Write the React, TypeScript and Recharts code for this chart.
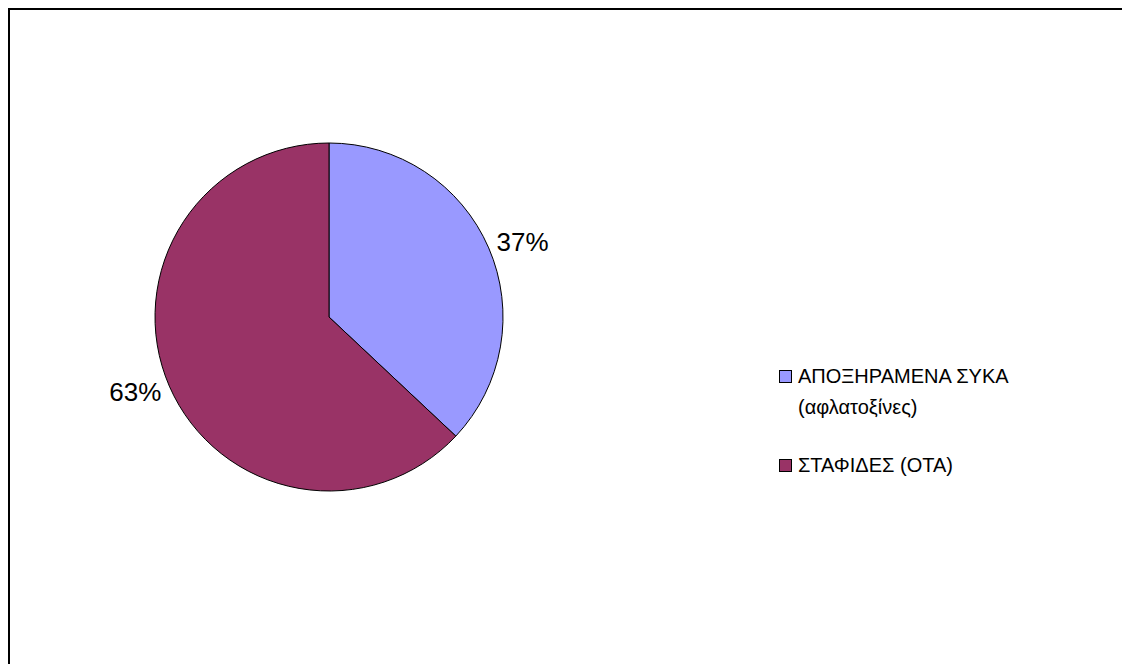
import { PieChart, Pie, Cell, Legend } from "recharts";

const categories = ["ΑΠΟΞΗΡΑΜΕΝΑ ΣΥΚΑ (αφλατοξίνες)", "ΣΤΑΦΙΔΕΣ (ΟΤΑ)"];
const legendLines = [["ΑΠΟΞΗΡΑΜΕΝΑ ΣΥΚΑ", "(αφλατοξίνες)"], ["ΣΤΑΦΙΔΕΣ (ΟΤΑ)"]];
const values = [37, 63];
const colors = ["#9999FF", "#993366"];

const data = categories.map((name, i) => ({ name, value: values[i] }));

const FONT = "'Liberation Sans', Arial, sans-serif";
const RAD = Math.PI / 180;

const renderLabel = ({ cx, cy, midAngle, outerRadius, percent }: any) => {
  const r = outerRadius + 37;
  const x = cx + r * Math.cos(-midAngle * RAD);
  const y = cy + r * 0.9 * Math.sin(-midAngle * RAD);
  return (
    <text x={x} y={y} textAnchor="middle" dominantBaseline="central" fill="#000" fontSize={26} fontFamily={FONT}>
      {`${Math.round(percent * 100)}%`}
    </text>
  );
};

const renderLegend = () => (
  <div style={{ fontFamily: FONT, fontSize: 20, color: "#000", lineHeight: "31px" }}>
    {legendLines.map((lines, i) => (
      <div key={i} style={{ position: "relative", paddingLeft: 20, marginBottom: 27 }}>
        <span
          style={{
            position: "absolute", left: 1, top: 9, width: 11, height: 11,
            background: colors[i], border: "1px solid #000",
          }}
        />
        {lines.map((l, j) => (
          <div key={j}>{l}</div>
        ))}
      </div>
    ))}
  </div>
);

export default function App() {
  return (
    <div style={{ width: 1116, height: 660, border: "2px solid #000", background: "#fff" }}>
      <PieChart width={1116} height={656}>
        <Pie
          data={data}
          dataKey="value"
          cx={314}
          cy={302}
          outerRadius={174}
          startAngle={90}
          endAngle={-270}
          stroke="#000"
          strokeWidth={1}
          label={renderLabel}
          labelLine={false}
          isAnimationActive={false}
        >
          {data.map((d, i) => (
            <Cell key={d.name} fill={colors[i]} />
          ))}
        </Pie>
        <Legend content={renderLegend} wrapperStyle={{ left: 768, top: 351, width: 320 }} />
      </PieChart>
    </div>
  );
}
